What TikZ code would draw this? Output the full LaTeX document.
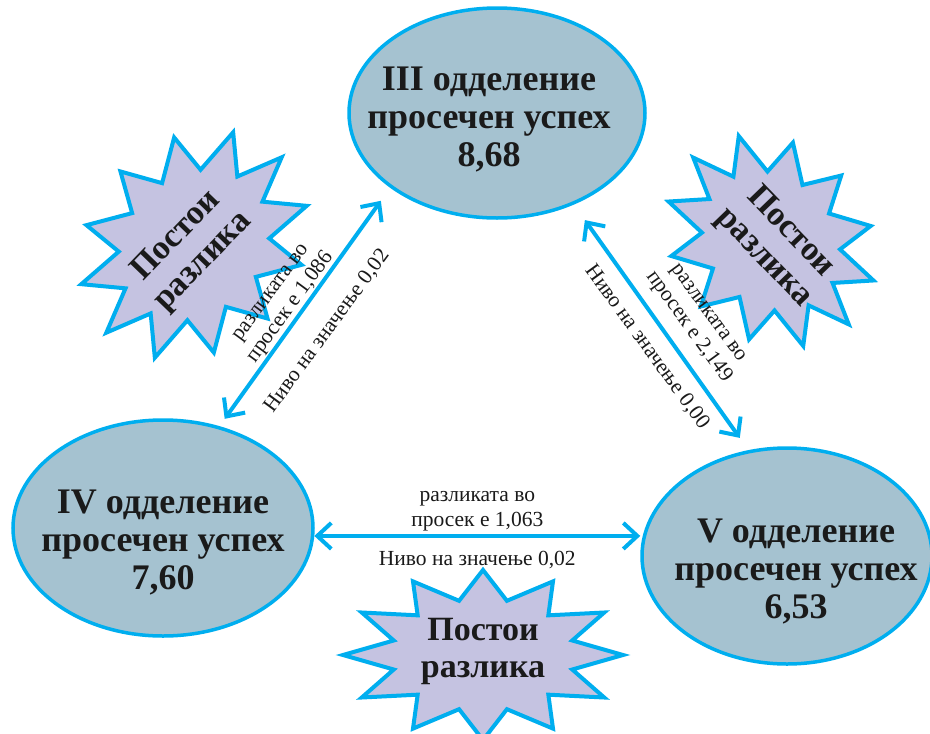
\documentclass[tikz,border=0pt]{standalone}
\usepackage{fontspec}
\setmainfont{Liberation Serif}
\usetikzlibrary{shapes.geometric,arrows.meta,calc}

\definecolor{linkcyan}{HTML}{00AEEF}
\definecolor{ovalfill}{HTML}{A5C2D0}
\definecolor{burstfill}{HTML}{C5C3E1}
\definecolor{inkblack}{HTML}{1A1A1A}

\tikzset{
  oval/.style={ellipse, draw=linkcyan, line width=3.5pt, fill=ovalfill, inner sep=0pt},
  ovaltext/.style={align=center, inner sep=0pt, text=inkblack,
    font=\fontsize{36}{38}\selectfont\bfseries},
  burst/.style={draw=linkcyan, line width=4pt, fill=burstfill, line join=miter},
  bursttext/.style={align=center, inner sep=0pt, text=inkblack,
    font=\fontsize{34}{37}\selectfont\bfseries},
  link/.style={draw=linkcyan, line width=4pt,
    arrows={Straight Barb[length=14pt,width=26pt]-Straight Barb[length=14pt,width=26pt]}},
  note/.style={align=center, inner sep=0pt, text=inkblack,
    font=\fontsize{21.5}{24.5}\selectfont},
}

% starburst: centre x, centre y, rotation, half width, half height
\newcommand\drawburst[5]{%
  \begin{scope}[shift={(#1,#2)}, rotate=#3, xscale=#4, yscale=#5]
    \draw[burst] (0:1) \foreach \k in {1,...,23} { -- ({\k*15}:{mod(\k,2)==0 ? 1 : 0.66}) } -- cycle;
  \end{scope}}

\begin{document}
\begin{tikzpicture}[x=1pt,y=-1pt]
\useasboundingbox[fill=white] (0,0) rectangle (930,734);

% grade ovals
\node[oval, minimum width=296pt, minimum height=210pt] (iii) at (497,113) {};
\node[oval, minimum width=300pt, minimum height=216pt] (iv) at (163,528) {};
\node[oval, minimum width=290pt, minimum height=216pt] (v) at (787,556) {};

\node[ovaltext] (iiitext) at (489,119) {III одделение\\просечен успех\\8,68};
\node[ovaltext] (ivtext) at (163,542) {IV одделение\\просечен успех\\7,60};
\node[ovaltext] (vtext) at (796,571) {V одделение\\просечен успех\\6,53};

% "difference exists" bursts
\drawburst{194}{245}{45}{124}{104}
\node[bursttext, rotate=46] (burstleft) at (190,249) {Постои\\разлика};

\drawburst{771}{241}{-47}{114}{96}
\node[bursttext, rotate=-46] (burstright) at (777,245) {Постои\\разлика};

\drawburst{483}{655}{0}{140}{85}
\node[bursttext] (burstbottom) at (483,651) {Постои\\разлика};

% comparisons between grades
\draw[link, shorten <=9pt, shorten >=16pt] (iv.61) -- (iii.215);
\node[note, rotate=53.7] (diffa) at (282,301) {разликата во\\просек е 1,086};
\node[note, rotate=53.7] (siga) at (327,331) {Ниво на значење 0,02};

\draw[link, shorten <=19pt, shorten >=15pt] (iii.-50) -- (v.110);
\node[note, rotate=-54] (diffb) at (697,321) {разликата во\\просек е 2,149};
\node[note, rotate=-54] (sigb) at (647,347) {Ниво на значење 0,00};

\draw[link] (iv.-3) -- (iv.-3 -| v.west)
  node[note, midway, above=3pt] (diffc) {разликата во\\просек е 1,063}
  node[note, midway, below=13pt] (sigc) {Ниво на значење 0,02};
\end{tikzpicture}
\end{document}
